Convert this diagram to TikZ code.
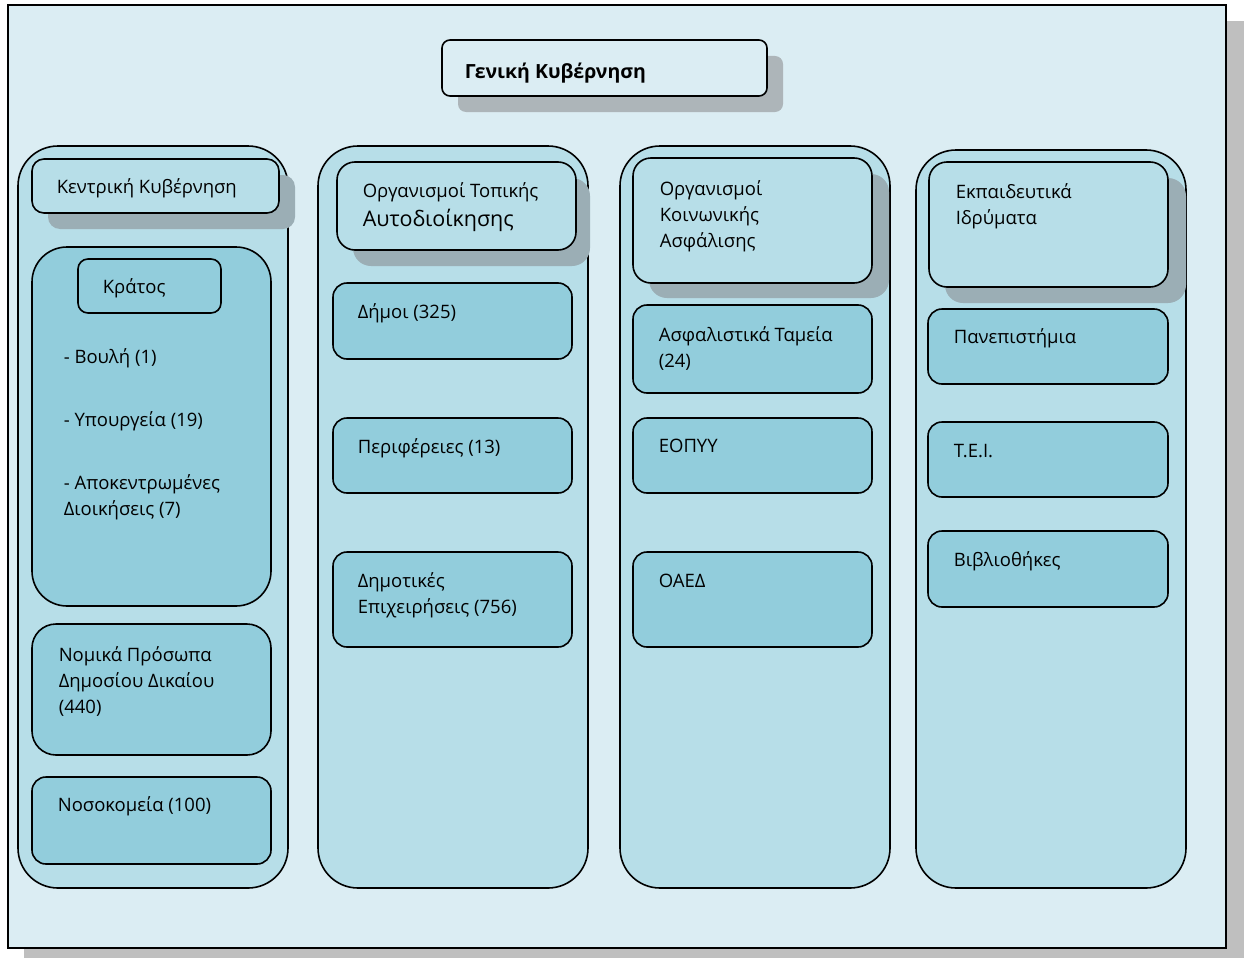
\documentclass[tikz,border=0pt]{standalone}
\usepackage{fontspec}
\setmainfont{Open Sans}
\usetikzlibrary{positioning}
\definecolor{bgc}{HTML}{DBEDF3}
\definecolor{colc}{HTML}{B7DEE8}
\definecolor{boxc}{HTML}{92CDDC}
\definecolor{shc}{HTML}{9BAEB5}
\definecolor{tshc}{HTML}{ADB5B9}
\definecolor{fshc}{HTML}{BFBFBF}

\begin{document}
\begin{tikzpicture}[x=1pt,y=-1pt,line width=1.6pt,
  font=\fontsize{18.5}{25.8}\selectfont,
  lbl/.style={anchor=base west,inner sep=0pt,align=left},
  colbox/.style={draw,fill=colc,rounded corners=40pt},
  hdbox/.style={draw,fill=colc,rounded corners=18pt},
  inbox/.style={draw,fill=boxc,rounded corners=14pt},
  shadow/.style={fill=shc,draw=none,rounded corners=18pt}]
\useasboundingbox (0,0) rectangle (1244,958);

% frame and its shadow
\fill[fshc] (24,21) rectangle (1244,958);
\draw[fill=bgc] (8,5) rectangle (1226,948);

% title
\fill[tshc,rounded corners=8pt] (458,56) rectangle (783,112);
\draw[fill=bgc,rounded corners=8pt] (442,40) rectangle (767,96);
\node[lbl,font=\fontsize{19.5}{25.8}\selectfont\bfseries] (genkyv) at (464,78) {Γενική Κυβέρνηση};

% the four columns
\draw[colbox] (18,146) rectangle (288,888);
\draw[colbox] (318,146) rectangle (588,888);
\draw[colbox] (620,146) rectangle (890,888);
\draw[colbox] (916,150) rectangle (1186,888);

% column headers with shadows (multi-line labels sit on their last baseline)
\fill[shadow,rounded corners=12pt] (48,175) rectangle (295,229);
\draw[hdbox,rounded corners=12pt] (32,159) rectangle (279,213);
\node[lbl] (kentr) at (56,193) {Κεντρική Κυβέρνηση};

\fill[shadow] (353,178) rectangle (590,266);
\draw[hdbox] (337,162) rectangle (576,250);
\node[lbl] (ota1) at (362,197) {Οργανισμοί Τοπικής};
\node[lbl,font=\fontsize{21.5}{25.8}\selectfont] (ota2) at (362,226) {Αυτοδιοίκησης};

\fill[shadow] (649,174) rectangle (889,298);
\draw[hdbox] (633,158) rectangle (872,283);
\node[lbl] (oka) at (659,247) {Οργανισμοί\\Κοινωνικής\\Ασφάλισης};

\fill[shadow] (945,178) rectangle (1186,303);
\draw[hdbox] (929,162) rectangle (1168,287);
\node[lbl] (ekp) at (955,224) {Εκπαιδευτικά\\Ιδρύματα};

% column 1
\draw[inbox,rounded corners=35pt] (32,247) rectangle (271,606);
\draw[inbox,rounded corners=10pt] (78,259) rectangle (221,313);
\node[lbl] (kratos) at (102,293) {Κράτος};
\node[lbl] (vouli) at (63,363) {- Βουλή (1)};
\node[lbl] (ypourg) at (63,426) {- Υπουργεία (19)};
\node[lbl] (apok) at (63,515) {- Αποκεντρωμένες\\Διοικήσεις (7)};
\draw[inbox,rounded corners=24pt] (32,624) rectangle (271,755);
\node[lbl] (npdd) at (58,713) {Νομικά Πρόσωπα\\Δημοσίου Δικαίου\\(440)};
\draw[inbox] (32,777) rectangle (271,864);
\node[lbl] (nosok) at (57,811) {Νοσοκομεία (100)};

% column 2
\draw[inbox] (333,283) rectangle (572,359);
\node[lbl] (dimoi) at (357,318) {Δήμοι (325)};
\draw[inbox] (333,418) rectangle (572,493);
\node[lbl] (perif) at (357,453) {Περιφέρειες (13)};
\draw[inbox] (333,552) rectangle (572,647);
\node[lbl] (dimep) at (357,613) {Δημοτικές\\Επιχειρήσεις (756)};

% column 3
\draw[inbox] (633,305) rectangle (872,393);
\node[lbl] (asfal) at (658,367) {Ασφαλιστικά Ταμεία\\(24)};
\draw[inbox] (633,418) rectangle (872,493);
\node[lbl] (eopyy) at (658,452) {ΕΟΠΥΥ};
\draw[inbox] (633,552) rectangle (872,647);
\node[lbl] (oaed) at (658,587) {ΟΑΕΔ};

% column 4
\draw[inbox] (928,309) rectangle (1168,384);
\node[lbl] (panep) at (953,343) {Πανεπιστήμια};
\draw[inbox] (928,422) rectangle (1168,497);
\node[lbl] (tei) at (953,457) {Τ.Ε.Ι.};
\draw[inbox] (928,531) rectangle (1168,607);
\node[lbl] (vivl) at (953,566) {Βιβλιοθήκες};
\end{tikzpicture}
\end{document}
